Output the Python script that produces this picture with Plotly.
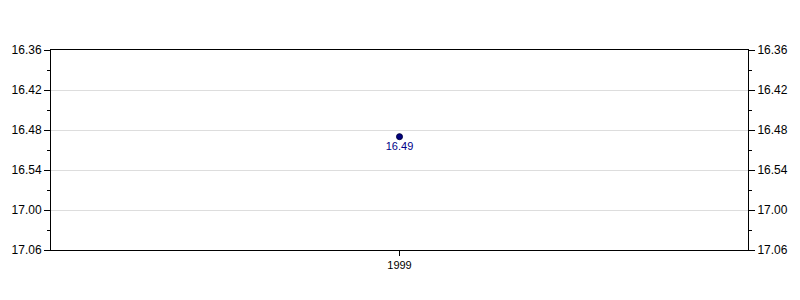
import plotly.graph_objects as go

years = ["1999"]
times = ["16.49"]
tick_labels = ["16.36", "16.42", "16.48", "16.54", "17.00", "17.06"]


def to_sec(s):
    m, sec = s.split(".")
    return int(m) * 60 + int(sec)


y_vals = [to_sec(t) for t in times]
tick_vals = [to_sec(t) for t in tick_labels]
minor_vals = [v + 3 for v in tick_vals[:-1]]
y_range = [tick_vals[-1], tick_vals[0]]

font = dict(family="Liberation Sans, Arial, sans-serif", size=12, color="#000000")

fig = go.Figure()
fig.add_trace(go.Scatter(
    x=years, y=y_vals, mode="markers+text",
    text=times, textposition="bottom center",
    textfont=dict(family=font["family"], size=11, color="#000088"),
    marker=dict(size=6, color="#000080", line=dict(color="#000040", width=1)),
    hoverinfo="skip", showlegend=False,
))
fig.add_trace(go.Scatter(
    x=years, y=y_vals, mode="markers", marker=dict(opacity=0),
    yaxis="y2", hoverinfo="skip", showlegend=False,
))

axis_common = dict(
    range=y_range, tickmode="array", tickvals=tick_vals, ticktext=tick_labels,
    ticks="outside", ticklen=6, tickcolor="#000000", tickfont=font,
    showline=True, linecolor="#000000", linewidth=1, zeroline=False,
    minor=dict(tickmode="array", tickvals=minor_vals, ticks="outside", ticklen=3,
               tickcolor="#000000", showgrid=False),
)

fig.update_layout(
    width=800, height=300,
    margin=dict(l=50, r=50, t=50, b=50),
    paper_bgcolor="#ffffff", plot_bgcolor="#ffffff",
    font=font,
    xaxis=dict(type="category", range=[-1, 1], ticks="outside", ticklen=5,
               tickcolor="#000000", showline=True, linecolor="#000000",
               mirror=True, showgrid=False, zeroline=False,
               tickfont=dict(family=font["family"], size=11, color="#000000")),
    yaxis=dict(**axis_common, side="left", showgrid=True, gridcolor="#dddddd", gridwidth=1),
    yaxis2=dict(**axis_common, side="right", overlaying="y", showgrid=False),
)

fig.write_html("out.html")
